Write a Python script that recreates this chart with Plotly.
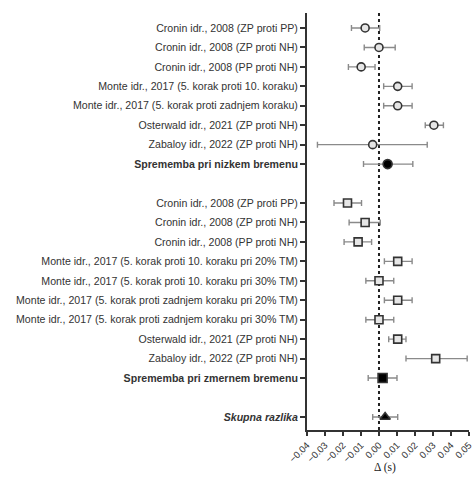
import plotly.graph_objects as go

# ---- data ----
low_labels = [
    "Cronin idr., 2008 (ZP proti PP)",
    "Cronin idr., 2008 (ZP proti NH)",
    "Cronin idr., 2008 (PP proti NH)",
    "Monte idr., 2017 (5. korak proti 10. koraku)",
    "Monte idr., 2017 (5. korak proti zadnjem koraku)",
    "Osterwald idr., 2021 (ZP proti NH)",
    "Zabaloy idr., 2022 (ZP proti NH)",
]
low_est = [-0.0077, 0.0000, -0.0099, 0.0104, 0.0104, 0.0305, -0.0035]
low_lo = [-0.0153, -0.0082, -0.0170, 0.0026, 0.0026, 0.0257, -0.0342]
low_hi = [0.0004, 0.0090, -0.0022, 0.0184, 0.0184, 0.0358, 0.0268]

low_sum_label = "<b>Sprememba pri nizkem bremenu</b>"
low_sum = [0.0048, -0.0086, 0.0188]  # est, lo, hi

mod_labels = [
    "Cronin idr., 2008 (ZP proti PP)",
    "Cronin idr., 2008 (ZP proti NH)",
    "Cronin idr., 2008 (PP proti NH)",
    "Monte idr., 2017 (5. korak proti 10. koraku pri 20% TM)",
    "Monte idr., 2017 (5. korak proti 10. koraku pri 30% TM)",
    "Monte idr., 2017 (5. korak proti zadnjem koraku pri 20% TM)",
    "Monte idr., 2017 (5. korak proti zadnjem koraku pri 30% TM)",
    "Osterwald idr., 2021 (ZP proti NH)",
    "Zabaloy idr., 2022 (ZP proti NH)",
]
mod_est = [-0.0175, -0.0077, -0.0116, 0.0104, 0.0000, 0.0104, 0.0000, 0.0104, 0.0315]
mod_lo = [-0.0250, -0.0166, -0.0194, 0.0030, -0.0073, 0.0030, -0.0073, 0.0054, 0.0150]
mod_hi = [-0.0097, 0.0007, -0.0041, 0.0184, 0.0082, 0.0184, 0.0082, 0.0150, 0.0490]

mod_sum_label = "<b>Sprememba pri zmernem bremenu</b>"
mod_sum = [0.0020, -0.0060, 0.0100]

total_label = "<b><i>Skupna razlika</i></b>"
total = [0.0034, -0.0035, 0.0104]

x_ticks = [-0.04, -0.03, -0.02, -0.01, 0.00, 0.01, 0.02, 0.03, 0.04, 0.05]
x_title = "Δ (s)"

# ---- row layout (blank rows between groups) ----
rows = low_labels + [low_sum_label, None] + mod_labels + [mod_sum_label, None, total_label]
tickvals, ticktext = [], []
for i, lab in enumerate(rows):
    if lab is not None:
        tickvals.append(i)
        ticktext.append(lab)
y_low = list(range(0, len(low_labels)))
y_low_sum = len(low_labels)
y_mod0 = y_low_sum + 2
y_mod = list(range(y_mod0, y_mod0 + len(mod_labels)))
y_mod_sum = y_mod0 + len(mod_labels)
y_total = y_mod_sum + 2

ERR_COL = "#8a8a8a"
MK_COL = "#333333"


def add(xs, ys, los, his, symbol, fill, size):
    fig.add_trace(go.Scatter(
        x=xs, y=ys, mode="markers",
        marker=dict(symbol=symbol, size=size, color=fill,
                    line=dict(color=MK_COL, width=1.6)),
        error_x=dict(type="data", symmetric=False,
                     array=[h - e for h, e in zip(his, xs)],
                     arrayminus=[e - l for e, l in zip(xs, los)],
                     color=ERR_COL, thickness=1.4, width=3),
        showlegend=False, hoverinfo="x+y",
    ))


fig = go.Figure()
add(low_est, y_low, low_lo, low_hi, "circle", "#e6e6e6", 8)
add([low_sum[0]], [y_low_sum], [low_sum[1]], [low_sum[2]], "circle", "black", 9)
add(mod_est, y_mod, mod_lo, mod_hi, "square", "#e6e6e6", 8)
add([mod_sum[0]], [y_mod_sum], [mod_sum[1]], [mod_sum[2]], "square", "black", 9)
add([total[0]], [y_total], [total[1]], [total[2]], "triangle-up", "black", 9)

fig.add_shape(type="line", xref="x", yref="paper", x0=0, x1=0, y0=0, y1=1,
              line=dict(color="#222222", width=2, dash="dot"), layer="below")

fig.add_annotation(text=x_title, xref="paper", yref="paper", x=0.48, y=-0.09,
                   xanchor="center", yanchor="middle", showarrow=False,
                   font=dict(size=11.5, family="Liberation Serif, Times New Roman, serif",
                             color="#222222"))

font_fam = "Liberation Sans, Arial, sans-serif"

fig.update_layout(
    width=473, height=482,
    margin=dict(l=307, r=4, t=13, b=52),
    paper_bgcolor="white", plot_bgcolor="white",
    font=dict(family=font_fam, size=10.6, color="#333333"),
    xaxis=dict(
        range=[-0.04, 0.05001], tickvals=x_ticks, tickformat=".2f",
        tickangle=-45, ticks="outside", ticklen=4, tickwidth=1.5,
        tickcolor="#333333", showline=True, linecolor="#333333", linewidth=2,
        showgrid=False, zeroline=False, automargin=False,
        ticklabeloverflow="allow",
        tickfont=dict(size=9.5),
    ),
    yaxis=dict(
        range=[20.67, -0.77], tickvals=tickvals, ticktext=ticktext,
        ticks="outside", ticklen=5, tickwidth=1.5, tickcolor="#333333",
        showline=True, linecolor="#333333", linewidth=2,
        showgrid=False, zeroline=False, automargin=False,
        tickfont=dict(size=10.6),
    ),
)

fig.write_html("out.html", config={"displayModeBar": False},
               post_script="document.body.style.margin='0';")
